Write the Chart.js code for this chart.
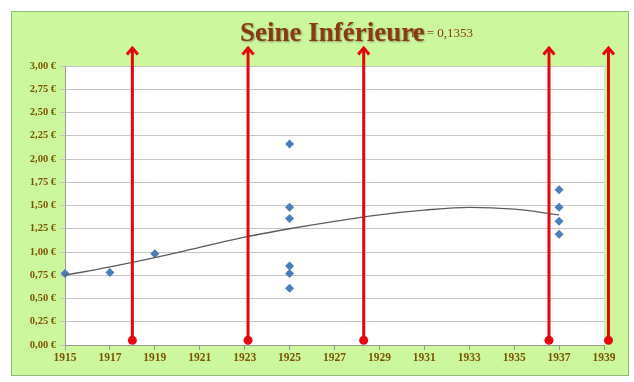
<!DOCTYPE html>
<html>
<head>
<meta charset="utf-8">
<script src="https://cdn.jsdelivr.net/npm/chart.js@4/dist/chart.umd.min.js"></script>
<style>
  html, body { margin: 0; padding: 0; background: #ffffff; }
  #wrap { width: 634px; height: 382px; }
</style>
</head>
<body>
<div id="wrap"><canvas id="c" width="634" height="382"></canvas></div>
<script>
// Price observations (year, price in euros)
const obsYears  = [1915, 1917, 1919, 1925, 1925, 1925, 1925, 1925, 1925, 1937, 1937, 1937, 1937];
const obsPrices = [0.77, 0.78, 0.98, 2.16, 1.48, 1.36, 0.85, 0.77, 0.61, 1.67, 1.48, 1.33, 1.19];

// Polynomial trend curve, sampled along the years
const trendYears  = [1915, 1917, 1919, 1921, 1923, 1925, 1927, 1929, 1931, 1933, 1935, 1937];
const trendValues = [0.75, 0.84, 0.94, 1.05, 1.16, 1.25, 1.33, 1.40, 1.45, 1.48, 1.46, 1.40];
const trendLabel  = 'R² = 0,1353';

// Event markers: vertical red arrows at these years
const arrowYears = [1918.0, 1923.15, 1928.3, 1936.55, 1939.2];
const arrowBase  = 0.05;
const arrowTip   = 3.21;

const chartTitle = 'Seine Inférieure';
const xTicks = [1915, 1917, 1919, 1921, 1923, 1925, 1927, 1929, 1931, 1933, 1935, 1937, 1939];

const BROWN = '#8a3a10';
const TICK_COLOR = '#7a5600';

const framePlugin = {
  id: 'frame',
  beforeDraw(chart) {
    const ctx = chart.ctx, a = chart.chartArea;
    ctx.save();
    ctx.fillStyle = '#ffffff';
    ctx.fillRect(0, 0, chart.width, chart.height);
    ctx.fillStyle = '#cdf79d';
    ctx.fillRect(11, 11, 618, 365);
    ctx.strokeStyle = '#8fbf77';
    ctx.lineWidth = 1;
    ctx.strokeRect(11.5, 11.5, 617, 364);
    ctx.fillStyle = '#ffffff';
    ctx.fillRect(a.left, a.top, a.right - a.left, a.bottom - a.top);
    ctx.restore();
  },
  afterDraw(chart) {
    const ctx = chart.ctx;
    ctx.save();
    ctx.shadowColor = 'rgba(0,0,0,0.35)';
    ctx.shadowBlur = 2;
    ctx.shadowOffsetX = 1;
    ctx.shadowOffsetY = 1;
    ctx.fillStyle = BROWN;
    ctx.textBaseline = 'alphabetic';
    ctx.textAlign = 'left';
    ctx.font = 'bold 27px "Liberation Serif"';
    ctx.fillText(chartTitle, 240, 41);
    ctx.shadowColor = 'rgba(0,0,0,0)';
    ctx.font = '13px "Liberation Serif"';
    ctx.textAlign = 'right';
    ctx.fillText(trendLabel, 473, 37);
    ctx.restore();
  }
};

const arrowPlugin = {
  id: 'arrows',
  afterDatasetsDraw(chart) {
    const ctx = chart.ctx, xs = chart.scales.x, ys = chart.scales.y;
    ctx.save();
    ctx.strokeStyle = '#e5070d';
    ctx.fillStyle = '#e5070d';
    ctx.lineWidth = 3;
    ctx.lineJoin = 'miter';
    arrowYears.forEach(yr => {
      const px = xs.getPixelForValue(yr);
      const yb = ys.getPixelForValue(arrowBase);
      const yt = ys.getPixelForValue(arrowTip);
      ctx.beginPath();
      ctx.moveTo(px, yb);
      ctx.lineTo(px, yt + 1);
      ctx.stroke();
      ctx.beginPath();
      ctx.moveTo(px - 5.5, yt + 8);
      ctx.lineTo(px, yt + 1.5);
      ctx.lineTo(px + 5.5, yt + 8);
      ctx.stroke();
      ctx.beginPath();
      ctx.arc(px, yb, 4.5, 0, Math.PI * 2);
      ctx.fill();
    });
    ctx.restore();
  }
};

new Chart(document.getElementById('c'), {
  type: 'scatter',
  data: {
    datasets: [
      {
        type: 'line',
        data: trendYears.map((x, i) => ({ x, y: trendValues[i] })),
        borderColor: '#5c5c5c',
        borderWidth: 1.3,
        pointRadius: 0,
        cubicInterpolationMode: 'monotone',
        fill: false
      },
      {
        data: obsYears.map((x, i) => ({ x, y: obsPrices[i] })),
        pointStyle: 'rectRot',
        pointRadius: 4.5,
        backgroundColor: '#4a7ebb',
        borderColor: '#4a7ebb',
        borderWidth: 0,
        clip: false
      }
    ]
  },
  options: {
    responsive: false,
    animation: false,
    layout: { padding: { left: 12, right: 30, top: 66, bottom: 7 } },
    plugins: { legend: { display: false }, tooltip: { enabled: false }, title: { display: false } },
    scales: {
      x: {
        type: 'linear',
        min: 1915, max: 1939,
        afterBuildTicks(s) { s.ticks = xTicks.map(v => ({ value: v })); },
        afterFit(s) { s.height = 30; },
        grid: { drawOnChartArea: false, drawTicks: true, tickLength: 5, color: '#9a9a9a' },
        border: { color: '#9a9a9a' },
        ticks: {
          color: TICK_COLOR,
          padding: 1,
          maxRotation: 0,
          autoSkip: false,
          font: { family: 'Liberation Serif', weight: 'bold', size: 11.5 },
          callback: v => String(v)
        }
      },
      y: {
        min: 0, max: 3,
        afterFit(s) { s.width = 53; },
        grid: { color: '#c4c4c4', tickLength: 5, lineWidth: 1 },
        border: { color: '#9a9a9a' },
        ticks: {
          stepSize: 0.25,
          color: TICK_COLOR,
          padding: 4,
          font: { family: 'Liberation Serif', weight: 'bold', size: 10.5 },
          callback: v => v.toFixed(2).replace('.', ',') + ' €'
        }
      }
    }
  },
  plugins: [framePlugin, arrowPlugin]
});
</script>
</body>
</html>
